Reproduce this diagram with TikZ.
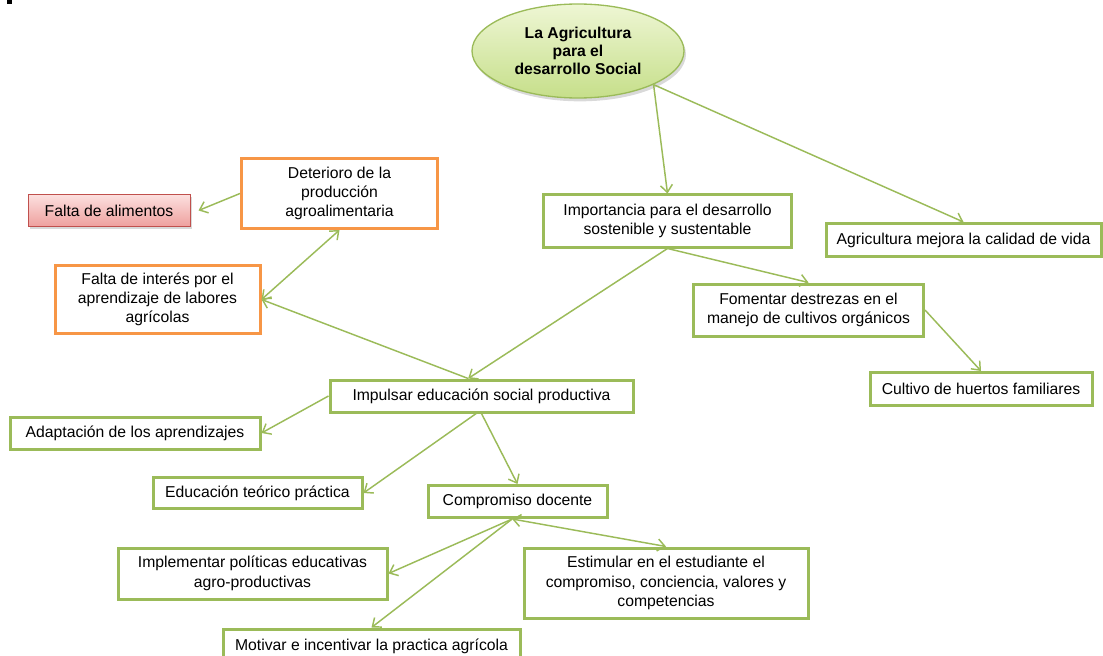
\documentclass[tikz,border=0pt]{standalone}
\usepackage{fontspec}
\setmainfont{Liberation Sans}
\usetikzlibrary{arrows.meta,shapes.geometric,shadows}

\definecolor{olivegreen}{RGB}{155,187,89}
\definecolor{officeorange}{RGB}{247,150,70}
\definecolor{redline}{RGB}{192,80,77}
\definecolor{redtop}{RGB}{252,224,223}
\definecolor{redbottom}{RGB}{238,160,158}
\definecolor{leaftop}{RGB}{238,246,212}
\definecolor{leafbottom}{RGB}{198,223,138}

\tikzset{every picture/.style={line width=0.75pt},
  >={Straight Barb[length=5.5pt,width=9pt]},
  txt/.style={align=center, inner sep=0pt, font=\fontsize{11.8}{14.5}\selectfont},
  greenbox/.style={txt, draw=olivegreen, line width=2.25pt, fill=white},
  orangebox/.style={txt, draw=officeorange, line width=2.25pt, fill=white},
  redbox/.style={txt, draw=redline, line width=0.75pt, top color=redtop, bottom color=redbottom,
    drop shadow={shadow xshift=1.5pt, shadow yshift=-2pt, opacity=0.3}},
  rootshape/.style={txt, ellipse, draw=olivegreen, line width=1pt, top color=leaftop, bottom color=leafbottom,
    font=\fontsize{11.8}{13.75}\selectfont\bfseries,
    drop shadow={shadow xshift=1.5pt, shadow yshift=-2.5pt, opacity=0.3}},
  link/.style={draw=olivegreen, line width=1.1pt}
}

\begin{document}
\begin{tikzpicture}[x=0.75pt,y=0.75pt,yscale=-1,xscale=1]
\clip (0,0) rectangle (1103,656);

%Shape: Square [id:blk]
\fill [black] (7,0) rectangle (12,4);

%Shape: Ellipse [id:root]
\node [rootshape, minimum width=159pt, minimum height=70.5pt] (root) at (578,51) {La Agricultura\\para el\\desarrollo Social};

%Shape: Rectangle [id:falta]
\node [redbox, minimum width=121.5pt, minimum height=24pt] (falta) at (109,210.5) {Falta de alimentos};
%Shape: Rectangle [id:deterioro]
\node [orangebox, minimum width=147pt, minimum height=52.5pt] (deterioro) at (339.5,193.5) {Deterioro de la\\producción\\agroalimentaria};
%Shape: Rectangle [id:interes]
\node [orangebox, minimum width=153.75pt, minimum height=51pt] (interes) at (157.5,299.5) {Falta de interés por el\\aprendizaje de labores\\agrícolas};

%Shape: Rectangle [id:importancia]
\node [greenbox, minimum width=186pt, minimum height=39pt] (importancia) at (667.5,221) {Importancia para el desarrollo\\sostenible y sustentable};
%Shape: Rectangle [id:mejora]
\node [greenbox, minimum width=206.25pt, minimum height=24.75pt] (mejora) at (963.5,240) {Agricultura mejora la calidad de vida};
%Shape: Rectangle [id:fomentar]
\node [greenbox, minimum width=172.5pt, minimum height=39pt] (fomentar) at (808.5,310) {Fomentar destrezas en el\\manejo de cultivos orgánicos};
%Shape: Rectangle [id:huertos]
\node [greenbox, minimum width=166.5pt, minimum height=24.75pt] (huertos) at (981,389) {Cultivo de huertos familiares};

%Shape: Rectangle [id:impulsar]
\node [greenbox, minimum width=227.25pt, minimum height=24pt] (impulsar) at (481.5,396) {Impulsar educación social productiva};
%Shape: Rectangle [id:adaptacion]
\node [greenbox, minimum width=187.5pt, minimum height=24pt] (adaptacion) at (135,433) {Adaptación de los aprendizajes};
%Shape: Rectangle [id:teorico]
\node [greenbox, minimum width=156.75pt, minimum height=23.25pt] (teorico) at (257.5,493) {Educación teórico práctica};
%Shape: Rectangle [id:compromiso]
\node [greenbox, minimum width=134.25pt, minimum height=24pt] (compromiso) at (517.5,501.5) {Compromiso docente};

%Shape: Rectangle [id:implementar]
\node [greenbox, minimum width=201.75pt, minimum height=38.25pt] (implementar) at (252.5,573.5) {Implementar políticas educativas\\agro-productivas};
%Shape: Rectangle [id:estimular]
\node [greenbox, minimum width=213pt, minimum height=52.5pt] (estimular) at (666,583) {Estimular en el estudiante el\\compromiso, conciencia, valores y\\competencias};
%Shape: Rectangle [id:motivar]
\node [greenbox, minimum width=222.75pt, minimum height=25.5pt] (motivar) at (371.5,646) {Motivar e incentivar la practica agrícola};

%Straight Lines
\draw [link,->] (root.-24) -- (mejora.north);
\draw [link,->] (root.-24) -- (importancia.north);
\draw [link,->] (deterioro.west) -- ([xshift=6]falta.east);
\draw [link,<->] (interes.east) -- (deterioro.south);
\draw [link,->] ([xshift=-10]impulsar.north) -- (interes.east);
\draw [link,->] (importancia.south) -- ([xshift=-10]impulsar.north);
\draw [link,->] (importancia.south) -- (fomentar.north);
\draw [link,->] (fomentar.east) -- (huertos.north);
\draw [link,->] (impulsar.west) -- (adaptacion.east);
\draw [link,->] ([xshift=-4]impulsar.south) -- (teorico.east);
\draw [link,->] (impulsar.south) -- (compromiso.north);
\draw [link,->] ([xshift=-4]compromiso.south) -- (implementar.east);
\draw [link,<->] ([xshift=-4]compromiso.south) -- (estimular.north);
\draw [link,->] ([xshift=-4]compromiso.south) -- (motivar.north);

\end{tikzpicture}
\end{document}
